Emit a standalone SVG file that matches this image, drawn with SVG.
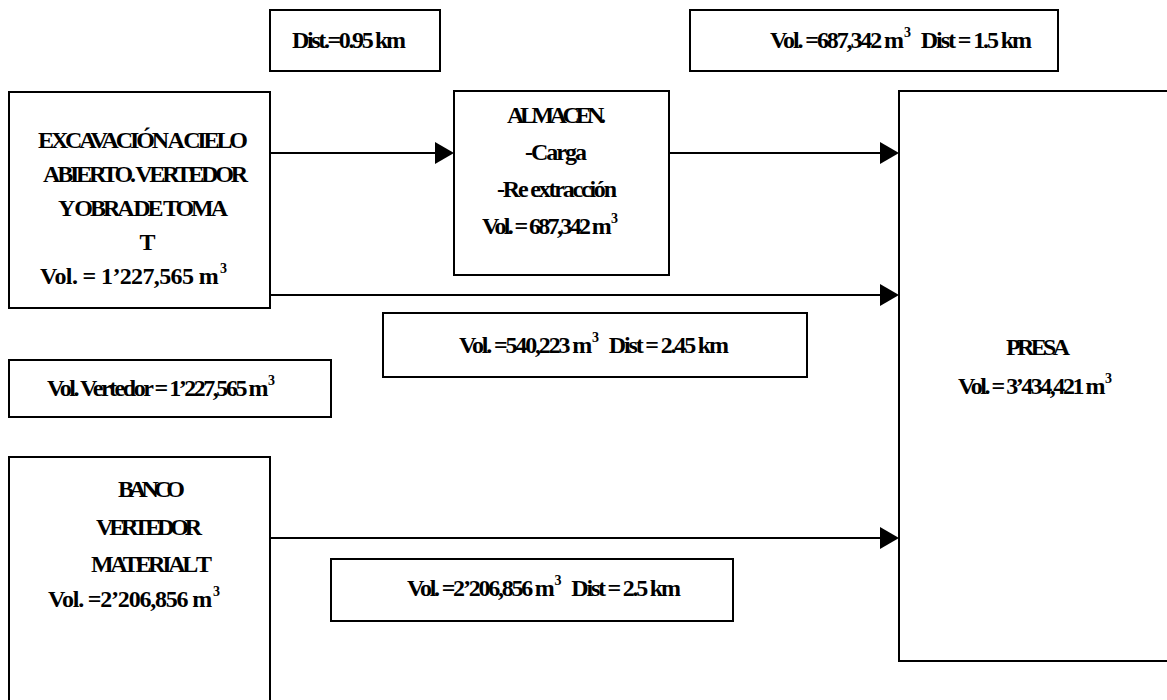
<svg xmlns="http://www.w3.org/2000/svg" width="1167" height="700" viewBox="0 0 1167 700">
<style>
  .box { fill: #fff; stroke: #000; stroke-width: 2; }
  .t { font-family: "Liberation Serif", "Times New Roman", serif; font-weight: bold; font-size: 24px; fill: #000; }
  .sup { font-size: 14px; }
  .conn { stroke: #000; stroke-width: 2; fill: none; marker-end: url(#arrow); }
</style>
<defs>
  <marker id="arrow" viewBox="0 0 19 22" refX="9" refY="11" markerWidth="19" markerHeight="22" markerUnits="userSpaceOnUse" orient="auto">
    <path d="M0,0 L19,11 L0,22 z" fill="#000"/>
  </marker>
</defs>
<rect width="1167" height="700" fill="#fff"/>

<g id="connectors">
  <line class="conn" x1="270" y1="153" x2="444" y2="153"/>
  <line class="conn" x1="669" y1="153" x2="889" y2="153"/>
  <line class="conn" x1="270" y1="295" x2="889" y2="295"/>
  <line class="conn" x1="270" y1="538" x2="889" y2="538"/>
</g>

<g id="excavacion">
  <rect class="box" x="9" y="92" width="261" height="216"/>
  <text class="t" x="38" y="148" textLength="210" lengthAdjust="spacing">EXCAVACIÓN A CIELO</text>
  <text class="t" x="43" y="182" textLength="205" lengthAdjust="spacing">ABIERTO. VERTEDOR</text>
  <text class="t" x="58" y="216" textLength="170" lengthAdjust="spacing">Y OBRA DE TOMA</text>
  <text class="t" x="147.5" y="250" text-anchor="middle">T</text>
  <text class="t" x="40" y="284" textLength="187" lengthAdjust="spacing">Vol. = 1’227,565 m<tspan class="sup" dx="2" dy="-11">3</tspan></text>
</g>

<g id="dist095">
  <rect class="box" x="270" y="10" width="170" height="61"/>
  <text class="t" x="292" y="48" textLength="114" lengthAdjust="spacing">Dist.=0.95 km</text>
</g>

<g id="almacen">
  <rect class="box" x="454" y="91" width="215" height="184"/>
  <text class="t" x="507" y="123" textLength="99" lengthAdjust="spacing">ALMACEN.</text>
  <text class="t" x="525" y="160" textLength="62" lengthAdjust="spacing">-Carga</text>
  <text class="t" x="497" y="197" textLength="120" lengthAdjust="spacing">-Re extracción</text>
  <text class="t" x="482" y="234" textLength="136" lengthAdjust="spacing">Vol. = 687,342 m<tspan class="sup" dx="2" dy="-11">3</tspan></text>
</g>

<g id="vol687">
  <rect class="box" x="690" y="10" width="368" height="61"/>
  <text class="t" x="770" y="48" textLength="262" lengthAdjust="spacing">Vol. =687,342 m<tspan class="sup" dx="2" dy="-11">3</tspan><tspan dx="12" dy="11">Dist = 1.5 km</tspan></text>
</g>

<g id="presa">
  <rect class="box" x="899" y="91" width="300" height="570"/>
  <text class="t" x="1006" y="355" textLength="64" lengthAdjust="spacing">PRESA</text>
  <text class="t" x="958" y="394" textLength="154" lengthAdjust="spacing">Vol. = 3’434,421 m<tspan class="sup" dx="2" dy="-11">3</tspan></text>
</g>

<g id="vol540">
  <rect class="box" x="383" y="313" width="424" height="64"/>
  <text class="t" x="459" y="353" textLength="270" lengthAdjust="spacing">Vol. =540,223 m<tspan class="sup" dx="2" dy="-11">3</tspan><tspan dx="12" dy="11">Dist = 2.45 km</tspan></text>
</g>

<g id="vertedor">
  <rect class="box" x="9" y="360" width="322" height="57"/>
  <text class="t" x="47" y="396" textLength="228" lengthAdjust="spacing">Vol. Vertedor = 1’227,565 m<tspan class="sup" dx="2" dy="-11">3</tspan></text>
</g>

<g id="banco">
  <rect class="box" x="9" y="457" width="261" height="260"/>
  <text class="t" x="118" y="497" textLength="67" lengthAdjust="spacing">BANCO</text>
  <text class="t" x="96" y="535" textLength="106" lengthAdjust="spacing">VERTEDOR</text>
  <text class="t" x="91" y="572" textLength="121" lengthAdjust="spacing">MATERIAL T</text>
  <text class="t" x="48" y="607" textLength="172" lengthAdjust="spacing">Vol. =2’206,856 m<tspan class="sup" dx="2" dy="-11">3</tspan></text>
</g>

<g id="vol2206">
  <rect class="box" x="331" y="559" width="402" height="62"/>
  <text class="t" x="407" y="596" textLength="274" lengthAdjust="spacing">Vol. =2’206,856 m<tspan class="sup" dx="2" dy="-11">3</tspan><tspan dx="12" dy="11">Dist = 2.5 km</tspan></text>
</g>
</svg>
